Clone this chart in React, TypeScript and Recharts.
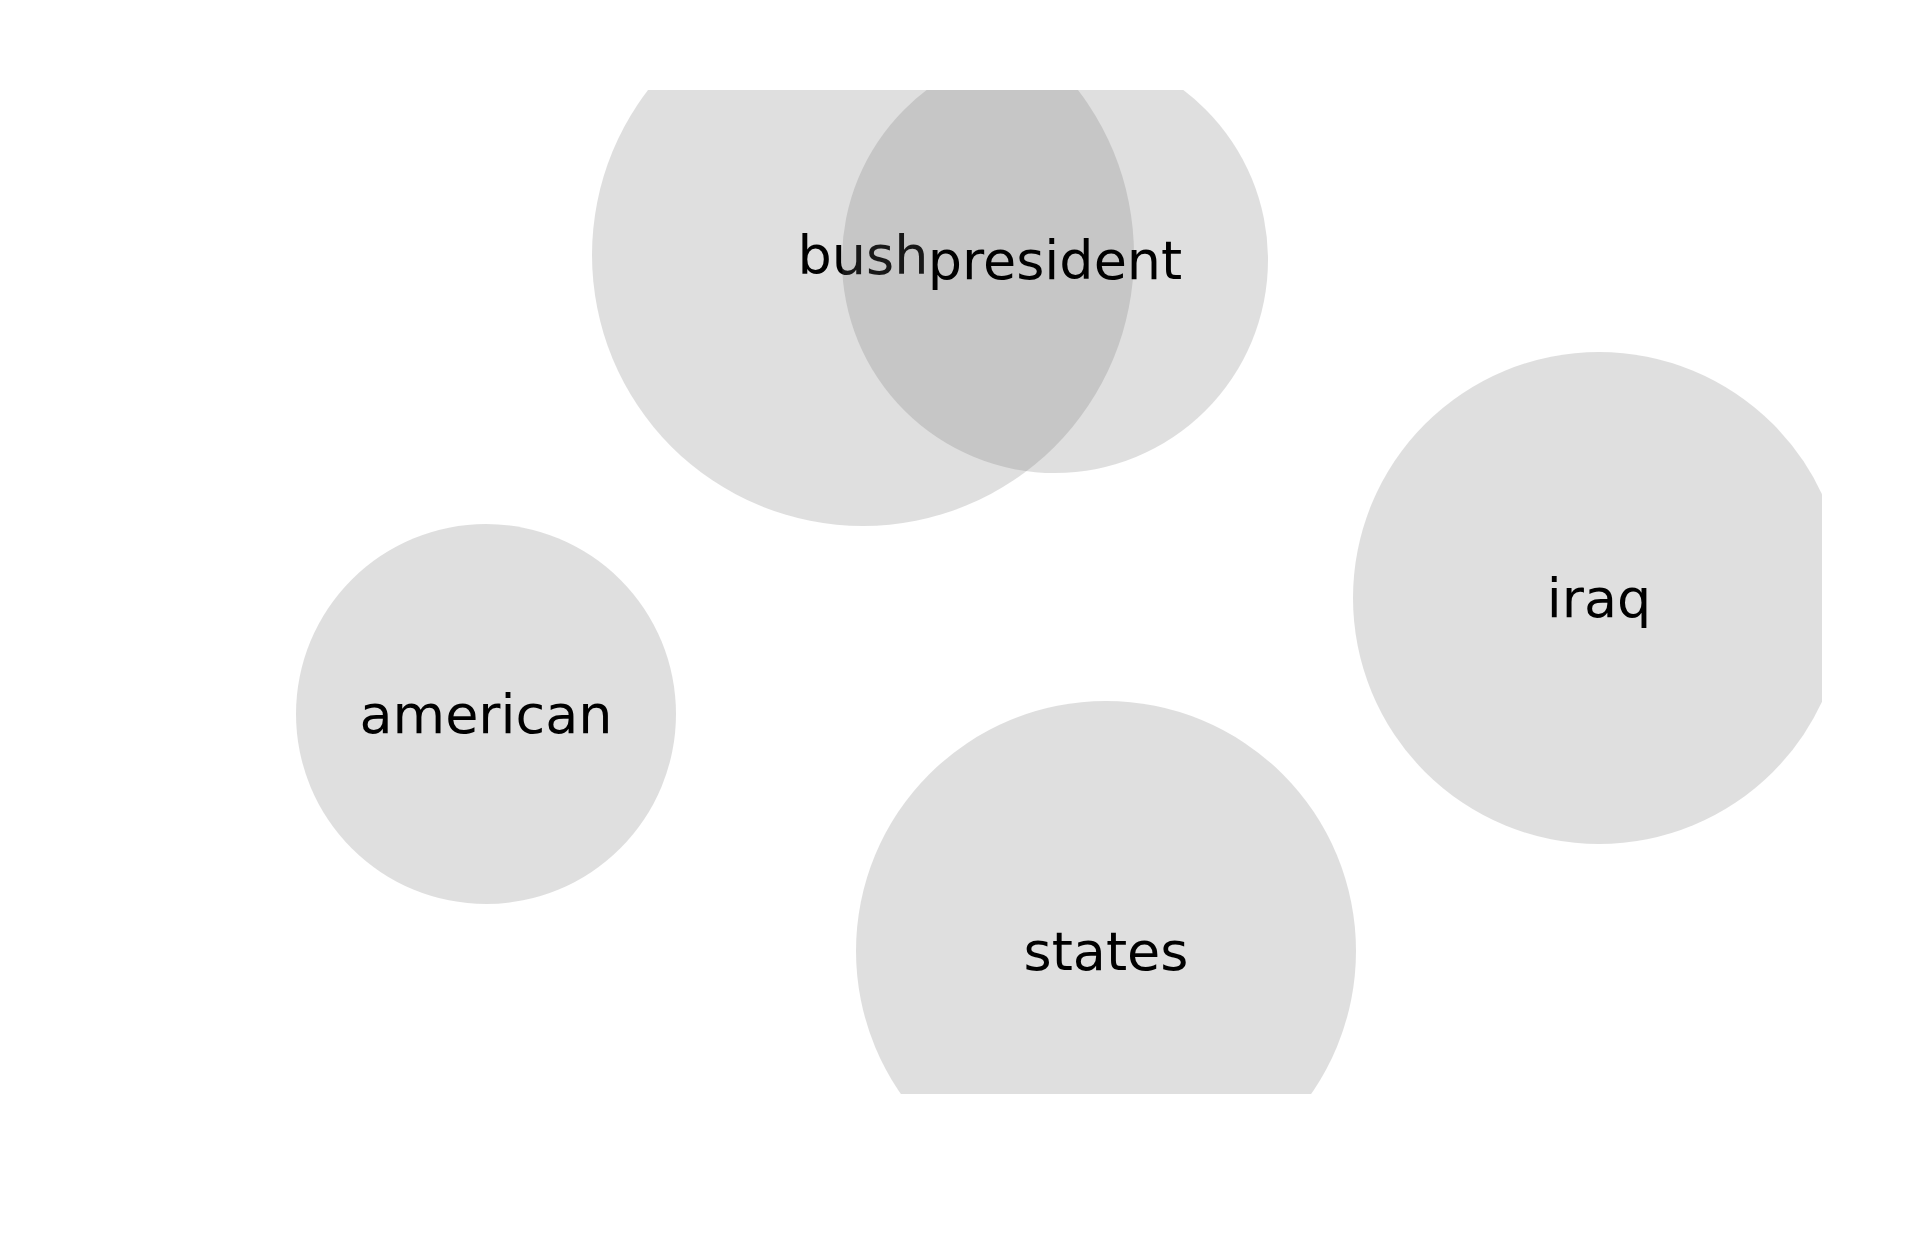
import { ScatterChart, Scatter, XAxis, YAxis } from 'recharts';

// word bubbles: centre and radius in pixel units of the 1920x1249 canvas
const words = ['bush', 'president', 'american', 'iraq', 'states'];
const centerX = [863, 1055, 486, 1599, 1106];
const centerY = [255, 260, 714, 598, 951];
const radius = [271, 213, 190, 246, 250];

const W = 1920;
const H = 1249;
const CLIP = { x: 0, y: 90, width: 1822, height: 1004 };

const data = words.map((word, i) => ({ word, x: centerX[i], y: centerY[i], r: radius[i] }));

const Bubble = (props: any) => {
  const { cx, cy, payload, index } = props;
  const id = `clip-${index}`;
  return (
    <g>
      <defs>
        <clipPath id={id}>
          <rect x={CLIP.x} y={CLIP.y} width={CLIP.width} height={CLIP.height} />
        </clipPath>
      </defs>
      <circle cx={cx} cy={cy} r={payload.r} fill="#6e6e6e" fillOpacity={0.22} clipPath={`url(#${id})`} />
      <text
        x={cx}
        y={cy}
        textAnchor="middle"
        dominantBaseline="central"
        fontFamily="DejaVu Sans"
        fontSize={54}
        fill="#000"
      >
        {payload.word}
      </text>
    </g>
  );
};

export default function App() {
  return (
    <div style={{ position: 'absolute', left: 0, top: 0, width: W, height: H, background: '#fff' }}>
      <ScatterChart width={W} height={H} margin={{ top: 0, right: 0, bottom: 0, left: 0 }}>
        <XAxis type="number" dataKey="x" domain={[0, W]} hide />
        <YAxis type="number" dataKey="y" domain={[0, H]} reversed hide />
        <Scatter data={data} shape={<Bubble />} isAnimationActive={false} />
      </ScatterChart>
    </div>
  );
}
